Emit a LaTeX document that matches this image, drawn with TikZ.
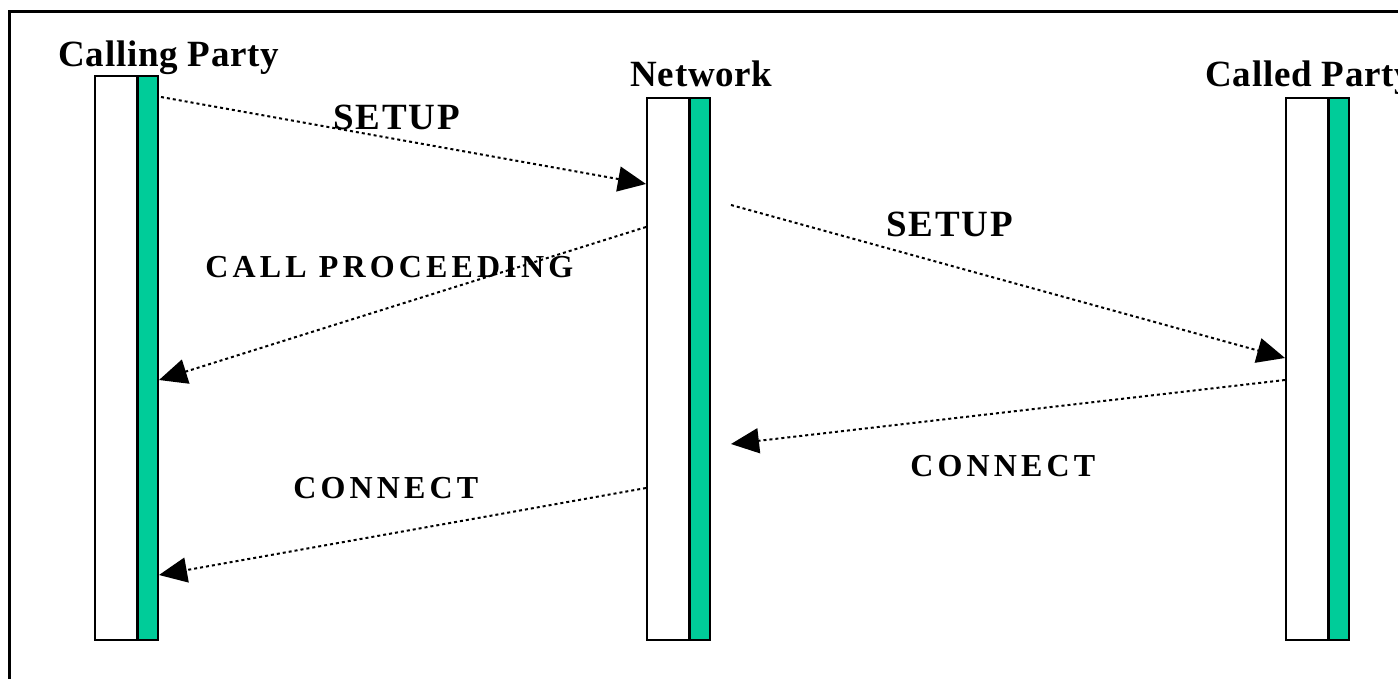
\documentclass[tikz,border=0pt]{standalone}
\usepackage{fontspec}
\setmainfont{Liberation Serif}
\newfontfamily\headfont[LetterSpace=2]{Liberation Serif}
\newfontfamily\setupfont[LetterSpace=5]{Liberation Serif}
\newfontfamily\msgfont[LetterSpace=13]{Liberation Serif}
\usetikzlibrary{arrows.meta}
\definecolor{lifegreen}{RGB}{0,204,153}
\tikzset{
  lifeline/.style={draw, line width=1pt, fill=white, minimum width=31.5pt, inner sep=0pt,
    path picture={
      \fill[lifegreen] ([xshift=-10.5pt]path picture bounding box.north east) rectangle (path picture bounding box.south east);
      \draw[line width=1.5pt] ([xshift=-10.5pt]path picture bounding box.north east) -- ([xshift=-10.5pt]path picture bounding box.south east);
    }},
  headlabel/.style={anchor=base west, inner sep=0pt, font=\headfont\bfseries\fontsize{18.5pt}{20pt}\selectfont},
  setuplabel/.style={anchor=base west, inner sep=0pt, font=\setupfont\bfseries\fontsize{18.5pt}{20pt}\selectfont},
  msglabel/.style={anchor=base west, inner sep=0pt, font=\msgfont\bfseries\fontsize{16pt}{18pt}\selectfont},
  msg/.style={line width=1pt, dash pattern=on 1.5pt off 1.5pt, -{Triangle[length=14pt,width=12.5pt]}},
}
\begin{document}
\begin{tikzpicture}[x=0.5pt,y=-0.5pt]
\useasboundingbox (0,0) rectangle (1398,679);
\begin{scope}
\clip (0,0) rectangle (1398,679);
% frame
\draw[line width=1.5pt] (9,690) -- (9,11.3) -- (1410,11.3);
% lifelines
\node[lifeline, minimum height=282pt] (A) at (126.5,358) {};
\node[lifeline, minimum height=271pt] (B) at (678.5,369) {};
\node[lifeline, minimum height=271pt] (C) at (1317.5,369) {};
% headers
\node[headlabel] (hA) at (58,67) {Calling Party};
\node[headlabel] (hB) at (630,87) {Network};
\node[headlabel] (hC) at (1205,87) {Called Party};
% endpoints
\coordinate (s1) at (161,97);
\coordinate (e1) at (646,184);
\coordinate (s2) at (646,227);
\coordinate (e2) at (159,380);
\coordinate (s3) at (731,205);
\coordinate (e3) at (1285,358);
\coordinate (s4) at (1285,380);
\coordinate (e4) at (731,444);
\coordinate (s5) at (646,488);
\coordinate (e5) at (159,575);
\draw[msg] (s1) -- (e1);
\draw[msg] (s2) -- (e2);
\draw[msg] (s3) -- (e3);
\draw[msg] (s4) -- (e4);
\draw[msg] (s5) -- (e5);
% labels
\node[setuplabel] (l1) at (333,130) {SETUP};
\node[msglabel] (l2) at (205,278) {CALL PROCEEDING};
\node[setuplabel] (l3) at (886,237) {SETUP};
\node[msglabel] (l4) at (910,476) {CONNECT};
\node[msglabel] (l5) at (293,498) {CONNECT};
\end{scope}
\end{tikzpicture}
\end{document}
